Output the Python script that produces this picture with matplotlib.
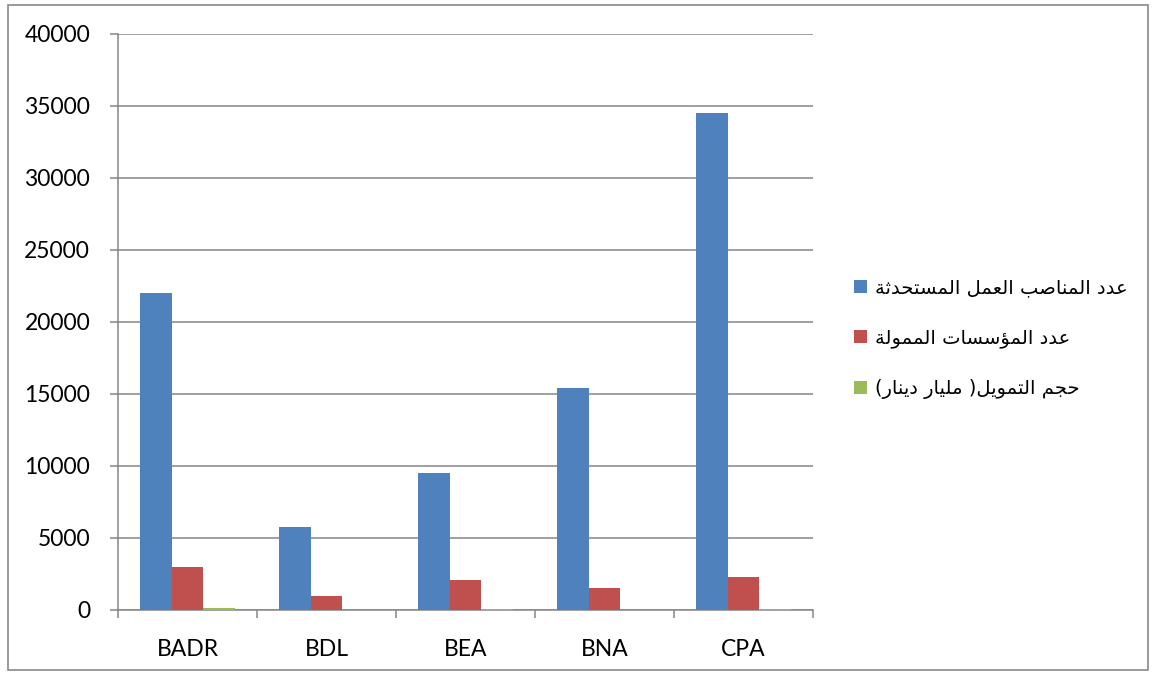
import matplotlib
matplotlib.use("Agg")
import matplotlib.pyplot as plt
import numpy as np
from matplotlib.patches import Rectangle
from matplotlib.font_manager import FontProperties

# ---------------- data ----------------
categories = ["BADR", "BDL", "BEA", "BNA", "CPA"]
jobs_created = [22000, 5750, 9500, 15450, 34500]
firms_financed = [3000, 1000, 2050, 1500, 2300]
financing_volume = [170, 0, 60, 30, 60]
series_labels = ["عدد المناصب العمل المستحدثة", "عدد المؤسسات الممولة", "حجم التمويل( مليار دينار)"]
y_ticks = [0, 5000, 10000, 15000, 20000, 25000, 30000, 35000, 40000]

colors = ["#4F81BD", "#C0504D", "#9BBB59"]

# ---------------- minimal Arabic shaping ----------------
FORMS = {
    'ا': ('\uFE8D', '\uFE8E', None, None),
    'ب': ('\uFE8F', '\uFE90', '\uFE91', '\uFE92'),
    'ة': ('\uFE93', '\uFE94', None, None),
    'ت': ('\uFE95', '\uFE96', '\uFE97', '\uFE98'),
    'ث': ('\uFE99', '\uFE9A', '\uFE9B', '\uFE9C'),
    'ج': ('\uFE9D', '\uFE9E', '\uFE9F', '\uFEA0'),
    'ح': ('\uFEA1', '\uFEA2', '\uFEA3', '\uFEA4'),
    'د': ('\uFEA9', '\uFEAA', None, None),
    'ر': ('\uFEAD', '\uFEAE', None, None),
    'س': ('\uFEB1', '\uFEB2', '\uFEB3', '\uFEB4'),
    'ص': ('\uFEB9', '\uFEBA', '\uFEBB', '\uFEBC'),
    'ع': ('\uFEC9', '\uFECA', '\uFECB', '\uFECC'),
    'ل': ('\uFEDD', '\uFEDE', '\uFEDF', '\uFEE0'),
    'م': ('\uFEE1', '\uFEE2', '\uFEE3', '\uFEE4'),
    'ن': ('\uFEE5', '\uFEE6', '\uFEE7', '\uFEE8'),
    'و': ('\uFEED', '\uFEEE', None, None),
    'ؤ': ('\uFE85', '\uFE86', None, None),
    'ي': ('\uFEF1', '\uFEF2', '\uFEF3', '\uFEF4'),
}
MIRROR = {'(': ')', ')': '('}


def dual(c):
    return c in FORMS and FORMS[c][2] is not None


def shape(text):
    out = []
    n = len(text)
    for i, c in enumerate(text):
        if c not in FORMS:
            out.append(MIRROR.get(c, c))
            continue
        prev_c = text[i - 1] if i > 0 else ''
        next_c = text[i + 1] if i < n - 1 else ''
        jp = dual(prev_c)
        jn = dual(c) and next_c in FORMS
        iso, fin, ini, med = FORMS[c]
        if jp and jn:
            out.append(med)
        elif jp:
            out.append(fin)
        elif jn:
            out.append(ini)
        else:
            out.append(iso)
    return ''.join(out)[::-1]


# ---------------- figure ----------------
W, H = 1156, 677
fig = plt.figure(figsize=(W / 100, H / 100), dpi=100)
fig.patches.append(Rectangle((8 / W, 1 - 670 / H), 1140 / W, 665 / H, transform=fig.transFigure,
                             fill=False, edgecolor="#898989", linewidth=1.2))

ax = fig.add_axes([118 / W, 1 - 610 / H, (813 - 118) / W, (610 - 34) / H])
x = np.arange(len(categories))
bw = 0.23
series = [jobs_created, firms_financed, financing_volume]
handles = []
for k, (vals, col) in enumerate(zip(series, colors)):
    h = ax.bar(x + (k - 1) * bw, vals, width=bw, color=col, zorder=3, linewidth=0)
    handles.append(h)

ax.set_xlim(-0.5, len(categories) - 0.5)
ax.set_ylim(0, 40000)
ax.set_yticks(y_ticks)
ax.set_yticklabels([str(v) for v in y_ticks])
ax.yaxis.grid(True, color="#868686", linewidth=1.1, zorder=0)
ax.set_axisbelow(True)

for s in ["top", "right"]:
    ax.spines[s].set_visible(False)
for s in ["left", "bottom"]:
    ax.spines[s].set_color("#868686")
    ax.spines[s].set_linewidth(1.1)

tick_font = "Lato"
ax.set_xticks(x)
ax.set_xticklabels(categories, fontsize=16.5, family=tick_font)
ax.set_xticks(np.arange(-0.5, len(categories) + 0.5, 1), minor=True)
ax.tick_params(axis="x", which="major", length=0, pad=21)
ax.tick_params(axis="x", which="minor", length=6, color="#868686", width=1.1, direction="out")
ax.tick_params(axis="y", length=6, color="#868686", width=1.1, direction="out", pad=14,
               labelsize=16.5)
for lab in ax.get_yticklabels():
    lab.set_family(tick_font)

leg_font = FontProperties(family="DejaVu Sans", size=14)
leg = fig.legend(handles, [shape(t) for t in series_labels], loc="center left",
                 bbox_to_anchor=(854 / W, 1 - 339 / H), frameon=False, prop=leg_font,
                 handlelength=0.65, handleheight=0.65, handletextpad=0.45, labelspacing=1.6,
                 borderpad=0, borderaxespad=0)

fig.savefig("out.png", dpi=100)
